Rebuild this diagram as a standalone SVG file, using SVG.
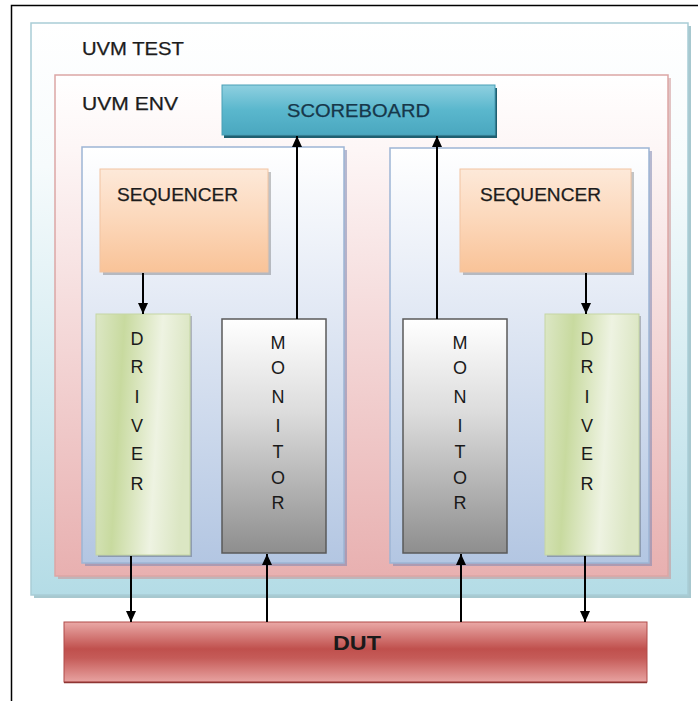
<svg xmlns="http://www.w3.org/2000/svg" width="698" height="701" viewBox="0 0 698 701">
  <defs>
    <linearGradient id="gTest" x1="0" y1="0" x2="0" y2="1">
      <stop offset="0" stop-color="#ffffff"/>
      <stop offset="0.25" stop-color="#f6fbfc"/>
      <stop offset="1" stop-color="#b4dce6"/>
    </linearGradient>
    <linearGradient id="gEnv" x1="0" y1="0" x2="0" y2="1">
      <stop offset="0" stop-color="#ffffff"/>
      <stop offset="0.15" stop-color="#fdf6f6"/>
      <stop offset="1" stop-color="#e8b0b0"/>
    </linearGradient>
    <linearGradient id="gAgent" x1="0" y1="0" x2="0" y2="1">
      <stop offset="0" stop-color="#ffffff"/>
      <stop offset="0.3" stop-color="#e9eef7"/>
      <stop offset="1" stop-color="#b3c6e2"/>
    </linearGradient>
    <linearGradient id="gSb" x1="0" y1="0" x2="0" y2="1">
      <stop offset="0" stop-color="#8fd0e0"/>
      <stop offset="0.5" stop-color="#5ab7cd"/>
      <stop offset="1" stop-color="#4aa7bf"/>
    </linearGradient>
    <linearGradient id="gSeq" x1="0" y1="0" x2="0" y2="1">
      <stop offset="0" stop-color="#fde9d9"/>
      <stop offset="0.45" stop-color="#fcd9bd"/>
      <stop offset="1" stop-color="#f9c398"/>
    </linearGradient>
    <linearGradient id="gDrv" x1="0" y1="0" x2="1" y2="0.15">
      <stop offset="0" stop-color="#dce7c5"/>
      <stop offset="0.3" stop-color="#c8da9f"/>
      <stop offset="0.7" stop-color="#eef3e2"/>
      <stop offset="1" stop-color="#dbe6c3"/>
    </linearGradient>
    <linearGradient id="gMon" x1="0" y1="0" x2="0" y2="1">
      <stop offset="0" stop-color="#ffffff"/>
      <stop offset="0.4" stop-color="#dcdcdc"/>
      <stop offset="1" stop-color="#8e8e8e"/>
    </linearGradient>
    <linearGradient id="gDut" x1="0" y1="0" x2="0" y2="1">
      <stop offset="0" stop-color="#eaa9a7"/>
      <stop offset="0.45" stop-color="#c0504d"/>
      <stop offset="0.6" stop-color="#c55b58"/>
      <stop offset="1" stop-color="#e8a3a1"/>
    </linearGradient>
    <marker id="ah" markerUnits="userSpaceOnUse" markerWidth="12" markerHeight="12" viewBox="0 0 12 12" refX="11" refY="6" orient="auto">
      <path d="M0,1 L11,6 L0,11 Z" fill="#000"/>
    </marker>
    <style>
      .lbl { font-family: "Liberation Sans", Arial, sans-serif; font-size: 18px; fill: #1c1c1c; stroke: #1c1c1c; stroke-width: 0.25; }
      .vert { font-family: "Liberation Sans", Arial, sans-serif; font-size: 18px; fill: #1a1a1a; text-anchor: middle; }
      .shadow { fill: #000; opacity: 0.22; }
      .conn { stroke: #000; stroke-width: 2; fill: none; marker-end: url(#ah); }
    </style>
  </defs>

  <!-- page frame -->
  <path d="M11.5,701 L11.5,5.5 L698,5.5" fill="none" stroke="#000" stroke-width="1.5"/>

  <g id="uvm-test">
    <rect x="34" y="26" width="657" height="572" style="fill:#5f9aa8;opacity:0.55"/>
    <rect x="31" y="23" width="657" height="572" fill="url(#gTest)" stroke="#a9cdd6" stroke-width="1.5"/>
    <text class="lbl" x="82" y="55" textLength="102" lengthAdjust="spacingAndGlyphs">UVM TEST</text>
  </g>

  <g id="uvm-env">
    <rect x="58" y="78" width="613" height="501" style="fill:#c98c8c;opacity:0.5"/>
    <rect x="55" y="75" width="613" height="501" fill="url(#gEnv)" stroke="#dca6a5" stroke-width="1.5"/>
    <text class="lbl" x="82" y="110" textLength="96" lengthAdjust="spacingAndGlyphs">UVM ENV</text>
  </g>

  <g id="agent-left">
    <rect x="85" y="150" width="262" height="416" style="fill:#7d86b0;opacity:0.55"/>
    <rect x="82" y="147" width="262" height="416" fill="url(#gAgent)" stroke="#9db5d5" stroke-width="1.5"/>
  </g>

  <g id="agent-right">
    <rect x="393" y="151" width="259" height="415" style="fill:#7d86b0;opacity:0.55"/>
    <rect x="390" y="148" width="259" height="415" fill="url(#gAgent)" stroke="#9db5d5" stroke-width="1.5"/>
  </g>

  <g id="scoreboard">
    <rect x="224" y="88" width="273" height="50" fill="#1f5f70"/>
    <rect x="222" y="85" width="273" height="50" fill="url(#gSb)" stroke="#4a9fb6" stroke-width="1"/>
    <text class="lbl" x="358.5" y="117" text-anchor="middle" textLength="143" lengthAdjust="spacingAndGlyphs" style="fill:#17374a;stroke:#17374a">SCOREBOARD</text>
  </g>

  <g id="sequencer-left">
    <rect x="103" y="172" width="168" height="103" class="shadow"/>
    <rect x="100" y="169" width="168" height="103" fill="url(#gSeq)" stroke="#f1c4a2" stroke-width="1"/>
    <text class="lbl" x="117" y="201" textLength="121" lengthAdjust="spacingAndGlyphs">SEQUENCER</text>
  </g>

  <g id="sequencer-right">
    <rect x="463" y="172" width="171" height="103" class="shadow"/>
    <rect x="460" y="169" width="171" height="103" fill="url(#gSeq)" stroke="#f1c4a2" stroke-width="1"/>
    <text class="lbl" x="480" y="201" textLength="121" lengthAdjust="spacingAndGlyphs">SEQUENCER</text>
  </g>

  <g id="driver-left">
    <rect x="98" y="316" width="94" height="241" class="shadow"/>
    <rect x="96" y="314" width="94" height="241" fill="url(#gDrv)" stroke="#c5d6a3" stroke-width="1"/>
    <text class="vert" x="137" y="345">D</text>
    <text class="vert" x="137" y="373">R</text>
    <text class="vert" x="137" y="403">I</text>
    <text class="vert" x="137" y="432">V</text>
    <text class="vert" x="137" y="460">E</text>
    <text class="vert" x="137" y="490">R</text>
  </g>

  <g id="monitor-left">
    <rect x="222" y="319" width="104" height="234" fill="url(#gMon)" stroke="#5a5a5a" stroke-width="1.5"/>
    <text class="vert" x="278" y="349">M</text>
    <text class="vert" x="278" y="374">O</text>
    <text class="vert" x="278" y="403">N</text>
    <text class="vert" x="278" y="432">I</text>
    <text class="vert" x="278" y="458">T</text>
    <text class="vert" x="278" y="484">O</text>
    <text class="vert" x="278" y="509">R</text>
  </g>

  <g id="monitor-right">
    <rect x="403" y="319" width="104" height="234" fill="url(#gMon)" stroke="#5a5a5a" stroke-width="1.5"/>
    <text class="vert" x="460" y="349">M</text>
    <text class="vert" x="460" y="374">O</text>
    <text class="vert" x="460" y="403">N</text>
    <text class="vert" x="460" y="432">I</text>
    <text class="vert" x="460" y="458">T</text>
    <text class="vert" x="460" y="484">O</text>
    <text class="vert" x="460" y="509">R</text>
  </g>

  <g id="driver-right">
    <rect x="547" y="316" width="94" height="241" class="shadow"/>
    <rect x="545" y="314" width="94" height="241" fill="url(#gDrv)" stroke="#c5d6a3" stroke-width="1"/>
    <text class="vert" x="587" y="345">D</text>
    <text class="vert" x="587" y="373">R</text>
    <text class="vert" x="587" y="403">I</text>
    <text class="vert" x="587" y="432">V</text>
    <text class="vert" x="587" y="460">E</text>
    <text class="vert" x="587" y="490">R</text>
  </g>

  <g id="dut">
    <rect x="64" y="622" width="583" height="60" fill="url(#gDut)" stroke="#b04a48" stroke-width="1"/>
    <line x1="64" y1="682.5" x2="647" y2="682.5" stroke="#8e3533" stroke-width="1.5"/>
    <text x="357" y="650" text-anchor="middle" textLength="48" lengthAdjust="spacingAndGlyphs" style="font-family:'Liberation Sans',Arial,sans-serif;font-size:20px;font-weight:bold;fill:#1a1a1a">DUT</text>
  </g>

  <g id="connectors">
    <line class="conn" x1="143" y1="273" x2="143" y2="314"/>
    <line class="conn" x1="586" y1="273" x2="586" y2="314"/>
    <line class="conn" x1="297" y1="319" x2="297" y2="136"/>
    <line class="conn" x1="437" y1="319" x2="437" y2="136"/>
    <line class="conn" x1="131" y1="556" x2="131" y2="622"/>
    <line class="conn" x1="585" y1="556" x2="585" y2="622"/>
    <line class="conn" x1="267" y1="622" x2="267" y2="554"/>
    <line class="conn" x1="461" y1="622" x2="461" y2="554"/>
  </g>
</svg>
